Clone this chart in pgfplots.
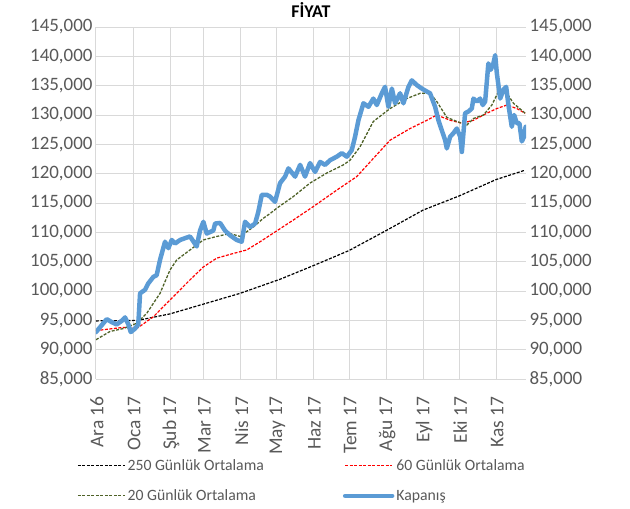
\documentclass[border=0pt]{standalone}
\usepackage{fontspec}
\setmainfont{Carlito}
\usepackage{pgfplots}
\pgfplotsset{compat=1.18}
\definecolor{gridc}{HTML}{D9D9D9}
\definecolor{tickc}{HTML}{595959}
\definecolor{closec}{HTML}{5B9BD5}
\definecolor{greenc}{HTML}{4F6228}
\begin{document}
\begin{tikzpicture}
\pgfplotsset{
  base/.style={
    scale only axis, width=430bp, height=352bp,
    xmin=0, xmax=360, ymin=85000, ymax=145000,
    ytick={85000,90000,95000,100000,105000,110000,115000,120000,125000,130000,135000,140000,145000},
    scaled y ticks=false,
    axis line style={draw=none},
    tick style={draw=none},
    yticklabel style={font=\fontsize{19}{19}\selectfont, text=tickc},
    /pgf/number format/fixed,
    /pgf/number format/precision=0,
    /pgf/number format/1000 sep={,},
    /pgf/number format/assume math mode=true,
  }
}
\begin{axis}[base, at={(0,0)}, anchor=south west,
  yticklabel pos=left,
  xtick={0,31,62,90,121,151,182,212,243,274,304,335},
  xticklabels={Ara 16,Oca 17,Şub 17,Mar 17,Nis 17,May 17,Haz 17,Tem 17,Ağu 17,Eyl 17,Eki 17,Kas 17},
  xticklabel style={yshift=-14bp, xshift=1bp, rotate=90, anchor=east, font=\fontsize{19.5}{19.5}\selectfont, text=tickc},
  grid=major, major grid style={gridc, line width=1bp},
  title={FİYAT}, title style={font=\bfseries\fontsize{18}{18}\selectfont, yshift=0bp},
  legend columns=2,
  legend cell align=left,
  legend style={draw=none, fill=none, font=\fontsize{15.8}{16}\selectfont, text=tickc,
    at={(-0.051,-0.216)}, anchor=north west,
    /tikz/every even column/.append style={column sep=77bp}, row sep=14bp},
  legend image code/.code={\draw[#1] (0bp,0bp) -- (47bp,0bp);},
]
\addplot[black, line width=1.2bp, dash pattern=on 3bp off 1.5bp] coordinates {
(0,94900) (35.2,95000) (62,96100) (90.5,97800) (120.6,99600) (154.1,102000)
(181.7,104300) (211.9,106900) (242.9,110300) (273.9,113800) (304,116200)
(335,119000) (359.3,120600)};
\addlegendentry{250 Günlük Ortalama}
\addplot[red, line width=1.2bp, dash pattern=on 3bp off 1.5bp] coordinates {
(0,93200) (6.1,93400) (22.9,93800) (34.1,93600) (48.0,95600) (59.2,97900)
(70.4,100200) (78.7,101900) (89.9,104100) (101.1,105600) (115.0,106400)
(126.2,107000) (137.4,108400) (145.7,109500) (165.2,112100) (182.0,114400)
(201.6,117200) (218.3,119500) (229.5,122000) (246.2,125700) (263.0,127700)
(277.0,129100) (285.3,130000) (296.5,129100) (306.3,128600) (316.0,129100)
(327.2,130300) (335.6,131100) (344.0,131700) (352.3,131100) (359.3,130300)};
\addlegendentry{60 Günlük Ortalama}
\addplot[greenc, line width=1.3bp, dash pattern=on 3bp off 1.5bp] coordinates {
(0,91700) (11.7,93100) (22.9,93600) (34.1,94500) (42.5,96200) (53.6,99600)
(62.0,103600) (67.6,105300) (78.7,107000) (89.9,108700) (101.1,109300)
(112.2,109800) (120.6,109300) (131.7,110900) (140.1,112400) (145.7,113200)
(151.3,114100) (165.2,116100) (179.2,118400) (193.2,120100) (207.1,121500)
(212.7,122300) (221.1,124600) (232.2,128900) (246.2,131100) (260.2,132800)
(271.4,133700) (279.7,133700) (285.3,132300) (293.7,129600) (302.1,128900)
(310.5,128300) (316.0,129400) (324.4,130000) (331.4,131700) (337.0,134000)
(344.0,133700) (349.5,132000) (359.3,130300)};
\addlegendentry{20 Günlük Ortalama}
\addplot[closec, line width=4.5bp, line join=round, line cap=round] coordinates {
(0,93000) (9.0,95200) (13.1,94700) (17.3,94300) (21.5,94900) (24.3,95500)
(27.1,94300) (29.1,93000) (32.7,93600) (35.4,94300) (36.9,99600) (41.0,100200)
(43.8,101300) (48.0,102400) (50.8,102700) (53.6,105300) (57.8,108400)
(60.6,107300) (63.4,108700) (66.2,108100) (70.4,108700) (74.5,109000)
(78.7,109300) (84.3,107600) (87.1,110300) (89.9,111800) (92.7,109800)
(98.2,110300) (99.7,111500) (103.9,111600) (108.0,110300) (112.2,109500)
(117.8,108700) (122.0,108400) (124.8,111800) (129.0,110900) (133.2,111500)
(135.9,113500) (138.8,116400) (143.0,116400) (145.7,116100) (149.9,115200)
(154.1,118400) (158.3,119500) (161.1,120900) (166.7,119500) (170.9,121500)
(175.0,119500) (179.2,121800) (183.4,120300) (187.6,122000) (191.8,121500)
(196.0,122300) (201.6,122900) (205.8,123500) (210.0,122900) (214.1,124000)
(216.9,126300) (219.7,129100) (223.9,132000) (228.1,131400) (232.2,132800)
(235.1,131700) (239.3,133700) (242.0,134800) (244.8,131400) (247.7,134500)
(250.4,132000) (254.6,133700) (257.4,132000) (261.6,134800) (264.4,135900)
(268.6,135100) (272.8,134500) (277.0,134000) (279.7,133700) (283.9,131400)
(286.7,129100) (289.5,127400) (292.3,125700) (293.7,124300) (296.5,126300)
(299.2,126900) (302.1,127700) (304.9,126300) (306.3,123700) (309.0,130300)
(311.8,130600) (314.6,131100) (316.0,132800) (318.8,132300) (321.6,132800)
(323.8,131700) (325.8,132300) (328.5,138800) (330.5,137700) (332.7,138800)
(334.2,140200) (335.6,137100) (338.4,132800) (341.1,134300) (343.4,134800)
(345.3,131700) (348.1,128000) (350.1,130000) (352.3,128600) (354.5,128600)
(356.5,125500) (358.4,126300) (359.7,128000)};
\addlegendentry{Kapanış}
\end{axis}
\begin{axis}[base, at={(0,0)}, anchor=south west,
  yticklabel pos=right,
  hide x axis,
]
\addplot[draw=none] coordinates {(0,90000) (360,90000)};
\end{axis}
\pgfresetboundingbox
\path (-96bp,-130bp) rectangle (534bp,379bp);
\end{tikzpicture}
\end{document}
